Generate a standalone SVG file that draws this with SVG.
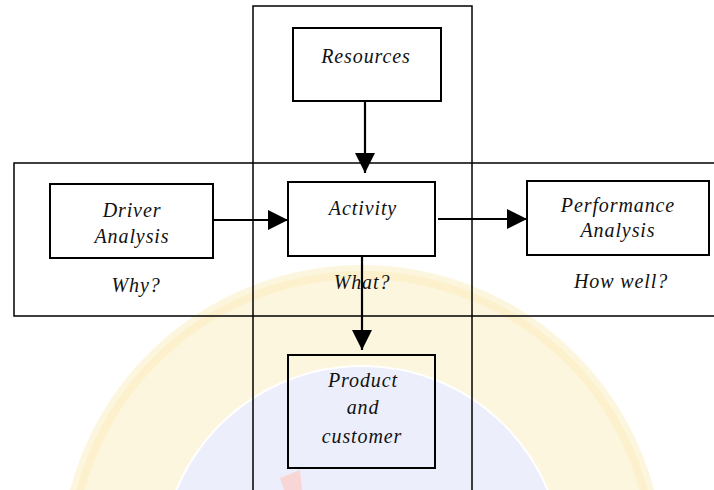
<svg xmlns="http://www.w3.org/2000/svg" width="714" height="490" viewBox="0 0 714 490">
<defs>
<style>
.frame{fill:none;stroke:#000;stroke-width:1.5}
.box{fill:none;stroke:#000;stroke-width:2}
.lbl{font-family:"Liberation Serif","Times New Roman",serif;font-style:italic;font-size:20px;letter-spacing:0.9px;fill:#111;text-anchor:middle}
.conn{stroke:#000;stroke-width:2.2;fill:none}
</style>
<marker id="ah" viewBox="0 0 20 20" refX="20" refY="10" markerWidth="20" markerHeight="20" markerUnits="userSpaceOnUse" orient="auto">
<path d="M0,0 L20,10 L0,20 Z" fill="#000"/>
</marker>
</defs>
<rect width="714" height="490" fill="#fff"/>
<g id="watermark">
<circle cx="362" cy="567" r="252" fill="none" stroke="#fdf6df" stroke-width="100"/>
<circle cx="362" cy="567" r="292" fill="none" stroke="#fcf1cc" stroke-width="8"/>
<circle cx="362" cy="567" r="200" fill="#eceefb"/>
<path d="M280,478 L300,470 L302,490 L284,490 Z" fill="#f9d6d6"/>
</g>
<g id="frames">
<rect class="frame" x="253" y="6" width="219" height="500"/>
<path class="frame" d="M716,163 L14,163 L14,316 L716,316"/>
</g>
<g id="resources">
<rect class="box" x="293" y="28" width="148" height="73"/>
<text class="lbl" x="366" y="63">Resources</text>
</g>
<g id="driver">
<rect class="box" x="50" y="184" width="163" height="74"/>
<text class="lbl" x="132" y="217">Driver</text>
<text class="lbl" x="132" y="243">Analysis</text>
</g>
<g id="why"><text class="lbl" x="136" y="292">Why?</text></g>
<g id="activity">
<rect class="box" x="288" y="182" width="147" height="74"/>
<text class="lbl" x="363" y="215">Activity</text>
</g>
<g id="what"><text class="lbl" x="362" y="289">What?</text></g>
<g id="performance">
<rect class="box" x="527" y="181" width="182" height="74"/>
<text class="lbl" x="618" y="212">Performance</text>
<text class="lbl" x="618" y="237">Analysis</text>
</g>
<g id="howwell"><text class="lbl" x="621" y="288">How well?</text></g>
<g id="product">
<rect class="box" x="288" y="355" width="147" height="113"/>
<text class="lbl" x="363" y="387">Product</text>
<text class="lbl" x="363" y="414">and</text>
<text class="lbl" x="362" y="443">customer</text>
</g>
<g id="connectors">
<line class="conn" x1="365" y1="101" x2="365" y2="173" marker-end="url(#ah)"/>
<line class="conn" x1="213" y1="220" x2="288" y2="220" marker-end="url(#ah)"/>
<line class="conn" x1="438" y1="219" x2="527" y2="219" marker-end="url(#ah)"/>
<line class="conn" x1="362" y1="256" x2="362" y2="350" marker-end="url(#ah)"/>
</g>
</svg>
